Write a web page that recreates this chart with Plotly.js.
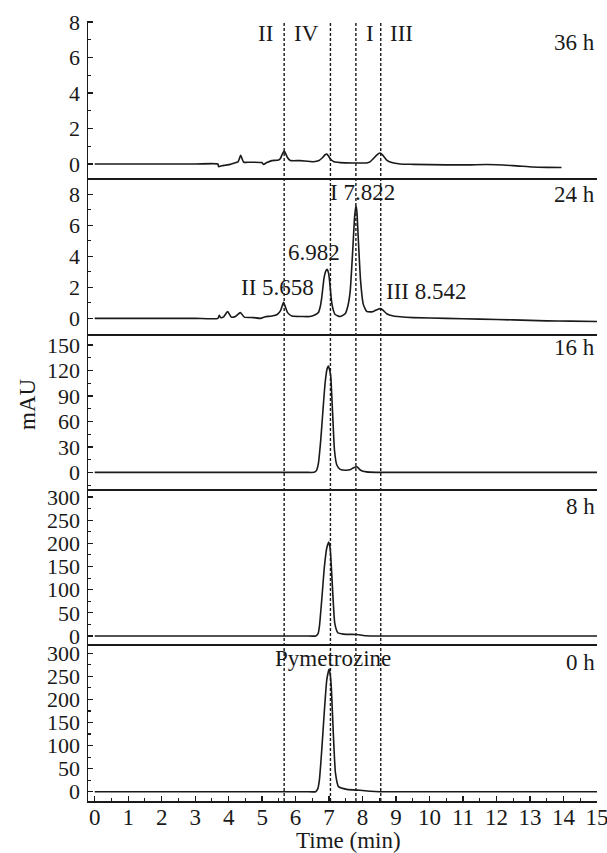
<!DOCTYPE html>
<html>
<head>
<meta charset="utf-8">
<script src="https://cdn.plot.ly/plotly-3.0.1.min.js"></script>
<style>html,body{margin:0;padding:0;background:#fff}#chart{width:607px;height:853px}</style>
</head>
<body>
<div id="chart"></div>
<script>
// ---- data ----
var panelLabels = ['36 h', '24 h', '16 h', '8 h', '0 h'];
var markerTimes = [5.658, 7.04, 7.80, 8.542];
var markerNames = ['II', 'IV', 'I', 'III'];

var t36 = [0, 1.5, 3.0, 3.68, 3.70, 3.80, 3.90, 4.05, 4.15, 4.28, 4.33, 4.36, 4.40, 4.45, 4.64, 4.99, 5.04, 5.14, 5.29, 5.49, 5.55, 5.60, 5.66, 5.70, 5.76, 5.84, 6.13, 6.53, 6.70, 6.80, 6.88, 6.93, 6.98, 7.05, 7.15, 7.33, 7.72, 8.12, 8.22, 8.32, 8.42, 8.52, 8.60, 8.72, 8.87, 9.12, 9.51, 10.51, 11.2, 11.7, 12.49, 13.08, 13.5, 13.94];
var y36 = [0, 0, 0, 0, -0.15, -0.10, -0.07, -0.02, 0.04, 0.12, 0.35, 0.49, 0.30, 0.10, 0.10, 0.08, -0.02, 0.08, 0.19, 0.22, 0.32, 0.55, 0.73, 0.60, 0.35, 0.20, 0.19, 0.13, 0.20, 0.35, 0.52, 0.56, 0.45, 0.25, 0.12, 0.08, 0.06, 0.06, 0.12, 0.30, 0.50, 0.62, 0.50, 0.22, 0.08, 0.0, -0.02, -0.05, -0.05, -0.03, -0.09, -0.17, -0.19, -0.20];

var t24 = [0, 1.5, 3.0, 3.68, 3.72, 3.76, 3.85, 3.97, 4.08, 4.20, 4.35, 4.47, 4.74, 4.95, 5.09, 5.29, 5.45, 5.55, 5.64, 5.70, 5.76, 5.89, 6.20, 6.43, 6.60, 6.68, 6.74, 6.78, 6.85, 6.90, 6.94, 6.98, 7.01, 7.05, 7.08, 7.13, 7.18, 7.33, 7.48, 7.56, 7.63, 7.71, 7.76, 7.80, 7.83, 7.86, 7.94, 8.02, 8.12, 8.22, 8.32, 8.45, 8.52, 8.60, 8.72, 8.92, 9.12, 9.51, 10.5, 11.5, 12.5, 13.49, 14.2, 15];
var y24 = [0, 0, 0, 0, 0.20, 0.05, 0.10, 0.44, 0.08, 0.12, 0.37, 0.08, 0.05, 0.0, 0.10, 0.15, 0.25, 0.50, 1.03, 0.70, 0.37, 0.15, 0.12, 0.12, 0.25, 0.38, 0.80, 1.34, 2.63, 3.05, 3.17, 2.95, 2.50, 1.60, 1.00, 0.50, 0.25, 0.12, 0.30, 0.80, 1.76, 4.57, 6.50, 7.26, 6.90, 5.65, 2.42, 0.92, 0.45, 0.42, 0.45, 0.58, 0.63, 0.55, 0.30, 0.15, 0.10, 0.05, 0.0, -0.05, -0.10, -0.16, -0.18, -0.20];

var t16 = [0, 2.0, 4.0, 5.5, 6.3, 6.55, 6.62, 6.68, 6.75, 6.81, 6.88, 6.94, 6.98, 7.02, 7.05, 7.08, 7.11, 7.16, 7.23, 7.33, 7.50, 7.62, 7.73, 7.83, 7.94, 8.12, 8.40, 9.0, 11.0, 13.0, 15];
var y16 = [0, 0, 0, 0, 0, 0, 2, 10.6, 38, 69.6, 105, 122, 125.3, 120, 112.7, 90, 65.6, 26.3, 8.6, 3.5, 2.5, 3, 5.4, 6.6, 2.5, 0.5, 0, 0, 0, 0, 0];

var t8 = [0, 2.0, 4.0, 5.5, 6.3, 6.60, 6.67, 6.71, 6.78, 6.86, 6.93, 6.99, 7.03, 7.05, 7.11, 7.17, 7.26, 7.43, 7.83, 8.12, 8.40, 9.0, 11.0, 13.0, 15];
var y8 = [0, 0, 0, 0, 0, 0, 5, 20, 78, 150, 190, 203, 190, 171, 92, 27, 7, 4, 3, 0.5, 0, 0, 0, 0, 0];

var t0 = [0, 2.0, 4.0, 5.5, 6.3, 6.60, 6.66, 6.71, 6.78, 6.86, 6.93, 7.00, 7.04, 7.07, 7.13, 7.19, 7.28, 7.53, 7.92, 8.22, 8.50, 9.0, 11.0, 13.0, 15];
var y0 = [0, 0, 0, 0, 0, 0, 6, 25, 90, 177, 242, 266, 250, 220, 119, 40, 11, 5, 3, 1, 0, 0, 0, 0, 0];

var xTicks = [0, 1, 2, 3, 4, 5, 6, 7, 8, 9, 10, 11, 12, 13, 14, 15];

// ---- chart ----
var FONT = 'Liberation Serif, Times New Roman, serif';
var FS = 23;
var YFS = 22;
var INK = '#1a1a1a';
var series = [[t36, y36], [t24, y24], [t16, y16], [t8, y8], [t0, y0]];
var domains = [[0.7987, 1], [0.5987, 0.7987], [0.3996, 0.5987], [0.2009, 0.3996], [0, 0.2009]];
var yRanges = [[-0.79, 8.06], [-1.01, 9.06], [-20, 163], [-18, 316.6], [-20.2, 319.5]];
var yDticks = [2, 2, 30, 50, 50];
var yMax = [8, 8, 150, 300, 300];

var traces = [];
var layout = {
  width: 607, height: 853,
  margin: {l: 88, r: 10, t: 21, b: 52},
  paper_bgcolor: '#fff', plot_bgcolor: '#fff',
  showlegend: false,
  font: {family: FONT, size: FS, color: INK},
  shapes: [], annotations: []
};

for (var i = 0; i < 5; i++) {
  var idx = 5 - i;
  var xa = idx === 1 ? 'x' : 'x' + idx;
  var ya = idx === 1 ? 'y' : 'y' + idx;
  traces.push({
    x: series[i][0], y: series[i][1], xaxis: xa, yaxis: ya,
    type: 'scatter', mode: 'lines',
    line: {color: INK, width: 1.6, shape: 'spline', smoothing: 0.5},
    hoverinfo: 'skip'
  });
  var tv = [];
  for (var v = 0; v <= yMax[i]; v += yDticks[i]) tv.push(v);
  var xname = idx === 1 ? 'xaxis' : 'xaxis' + idx;
  var yname = idx === 1 ? 'yaxis' : 'yaxis' + idx;
  var isBottom = idx === 1;
  layout[xname] = {
    domain: [0, 1], range: [-0.2, 15], anchor: ya,
    showline: true, linecolor: INK, linewidth: 1.5,
    showgrid: false, zeroline: false,
    ticks: isBottom ? 'inside' : '', ticklen: 5, tickwidth: 1.3, tickcolor: INK,
    tickmode: 'array', tickvals: xTicks, ticktext: xTicks.map(String),
    showticklabels: isBottom,
    ticklabeloverflow: 'allow',
    ticklabelstandoff: -5,
    tickfont: {family: FONT, size: FS, color: INK}
  };
  if (isBottom) layout[xname].minor = {ticks: 'inside', ticklen: 3, tickwidth: 1.1, tickcolor: INK, dtick: 0.5, tick0: 0};
  else layout[xname].matches = 'x';
  layout[yname] = {
    domain: domains[i], range: yRanges[i], anchor: xa,
    showline: true, linecolor: INK, linewidth: 1.5,
    showgrid: false, zeroline: false,
    ticks: 'inside', ticklen: 5, tickwidth: 1.3, tickcolor: INK,
    tickmode: 'array', tickvals: tv, ticktext: tv.map(String),
    minor: {ticks: 'inside', ticklen: 3, tickwidth: 1.1, tickcolor: INK, dtick: yDticks[i] / 2, tick0: 0},
    ticklabelstandoff: 2,
    tickfont: {family: FONT, size: YFS, color: INK}
  };
}

markerTimes.forEach(function (t) {
  layout.shapes.push({type: 'line', xref: 'x', yref: 'paper', x0: t, x1: t, y0: 0, y1: 1,
    line: {color: INK, width: 1.4, dash: '3px,2px'}});
});

function ann(text, x, y, xref, xanchor) {
  layout.annotations.push({text: text, x: x, y: y, xref: xref || 'x', yref: 'paper',
    xanchor: xanchor || 'center', yanchor: 'middle', showarrow: false,
    font: {family: FONT, size: FS, color: INK}});
}
var labY = [0.972, 0.777, 0.581, 0.377, 0.177];
panelLabels.forEach(function (p, i) { ann(p, 1.0, labY[i], 'paper', 'right'); });
ann(markerNames[0], 5.09, 0.9846);
ann(markerNames[1], 6.31, 0.9846);
ann(markerNames[2], 8.22, 0.9846);
ann(markerNames[3], 9.15, 0.9846);
ann('I 7.822', 8.0, 0.7795);
ann('6.982', 6.55, 0.7038);
ann('II 5.658', 5.47, 0.6577);
ann('III 8.542', 9.89, 0.6526);
ann('Pymetrozine', 7.11, 0.1833);
ann('Time (min)', 0.511, -0.05, 'paper');
layout.annotations.push({text: 'mAU', x: -0.118, y: 0.509, xref: 'paper', yref: 'paper',
  textangle: -90, showarrow: false, xanchor: 'center', yanchor: 'middle',
  font: {family: FONT, size: FS, color: INK}});

Plotly.newPlot('chart', traces, layout, {displayModeBar: false, staticPlot: true});
</script>
</body>
</html>
